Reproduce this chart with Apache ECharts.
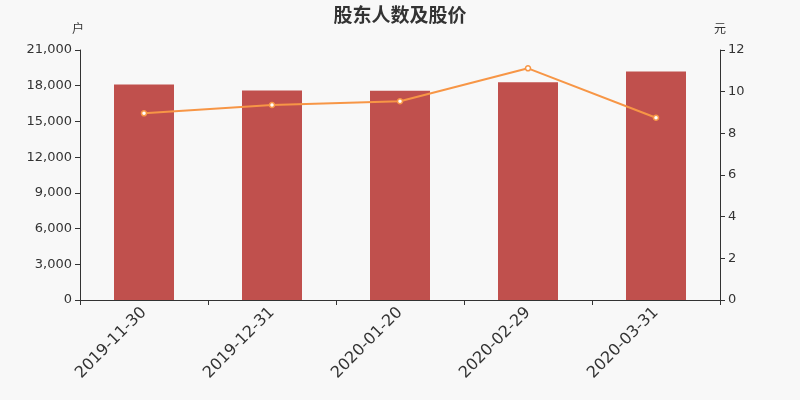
<!DOCTYPE html>
<html>
<head>
<meta charset="utf-8">
<script src="https://cdn.jsdelivr.net/npm/echarts@6/dist/echarts.min.js"></script>
<style>
  html, body { margin: 0; padding: 0; background: #f8f8f8; }
  #chart { width: 800px; height: 400px; }
</style>
</head>
<body>
<div id="chart"></div>
<script>
var dates = ['2019-11-30', '2019-12-31', '2020-01-20', '2020-02-29', '2020-03-31'];
var holders = [18100, 17600, 17580, 18300, 19200];
var prices = [8.96, 9.36, 9.54, 11.12, 8.75];

var axisColor = '#333';
var textColor = '#333';

var option = {
  backgroundColor: '#f8f8f8',
  animation: false,
  title: {
    text: '股东人数及股价',
    left: 'center',
    top: 0,
    textStyle: { fontSize: 19, fontWeight: 'bold', color: '#333', fontFamily: 'Noto Sans CJK SC' }
  },
  grid: { left: 80, right: 80, top: 50, bottom: 100 },
  xAxis: {
    type: 'category',
    data: dates,
    axisLine: { lineStyle: { color: axisColor } },
    axisTick: { show: true, alignWithLabel: false },
    axisLabel: { rotate: 45, fontSize: 16, color: textColor, margin: 10, fontFamily: 'DejaVu Sans' }
  },
  yAxis: [
    {
      type: 'value',
      name: '户',
      nameGap: 16,
      nameTextStyle: { color: textColor, fontSize: 12, align: 'center', fontFamily: 'Noto Sans CJK SC', padding: [0, 0, 0, -4] },
      min: 0,
      max: 21000,
      interval: 3000,
      axisLine: { show: true, lineStyle: { color: axisColor } },
      axisTick: { show: true },
      splitLine: { show: false },
      axisLabel: {
        color: textColor, fontSize: 13, fontFamily: 'DejaVu Sans',
        formatter: function (v) { return v.toLocaleString('en-US'); }
      }
    },
    {
      type: 'value',
      name: '元',
      nameGap: 16,
      nameTextStyle: { color: textColor, fontSize: 12, align: 'center', fontFamily: 'Noto Sans CJK SC' },
      min: 0,
      max: 12,
      interval: 2,
      axisLine: { show: true, lineStyle: { color: axisColor } },
      axisTick: { show: true },
      splitLine: { show: false },
      axisLabel: { color: textColor, fontSize: 13, fontFamily: 'DejaVu Sans' }
    }
  ],
  series: [
    {
      name: '股东人数',
      type: 'bar',
      data: holders,
      barWidth: 60,
      itemStyle: { color: '#c0504d' }
    },
    {
      name: '股价',
      type: 'line',
      yAxisIndex: 1,
      data: prices,
      symbol: 'circle',
      symbolSize: 5,
      lineStyle: { color: '#f79646', width: 2 },
      itemStyle: { color: '#ffffff', borderColor: '#f79646', borderWidth: 1.5 }
    }
  ]
};

var chart = echarts.init(document.getElementById('chart'));
chart.setOption(option);
</script>
</body>
</html>
